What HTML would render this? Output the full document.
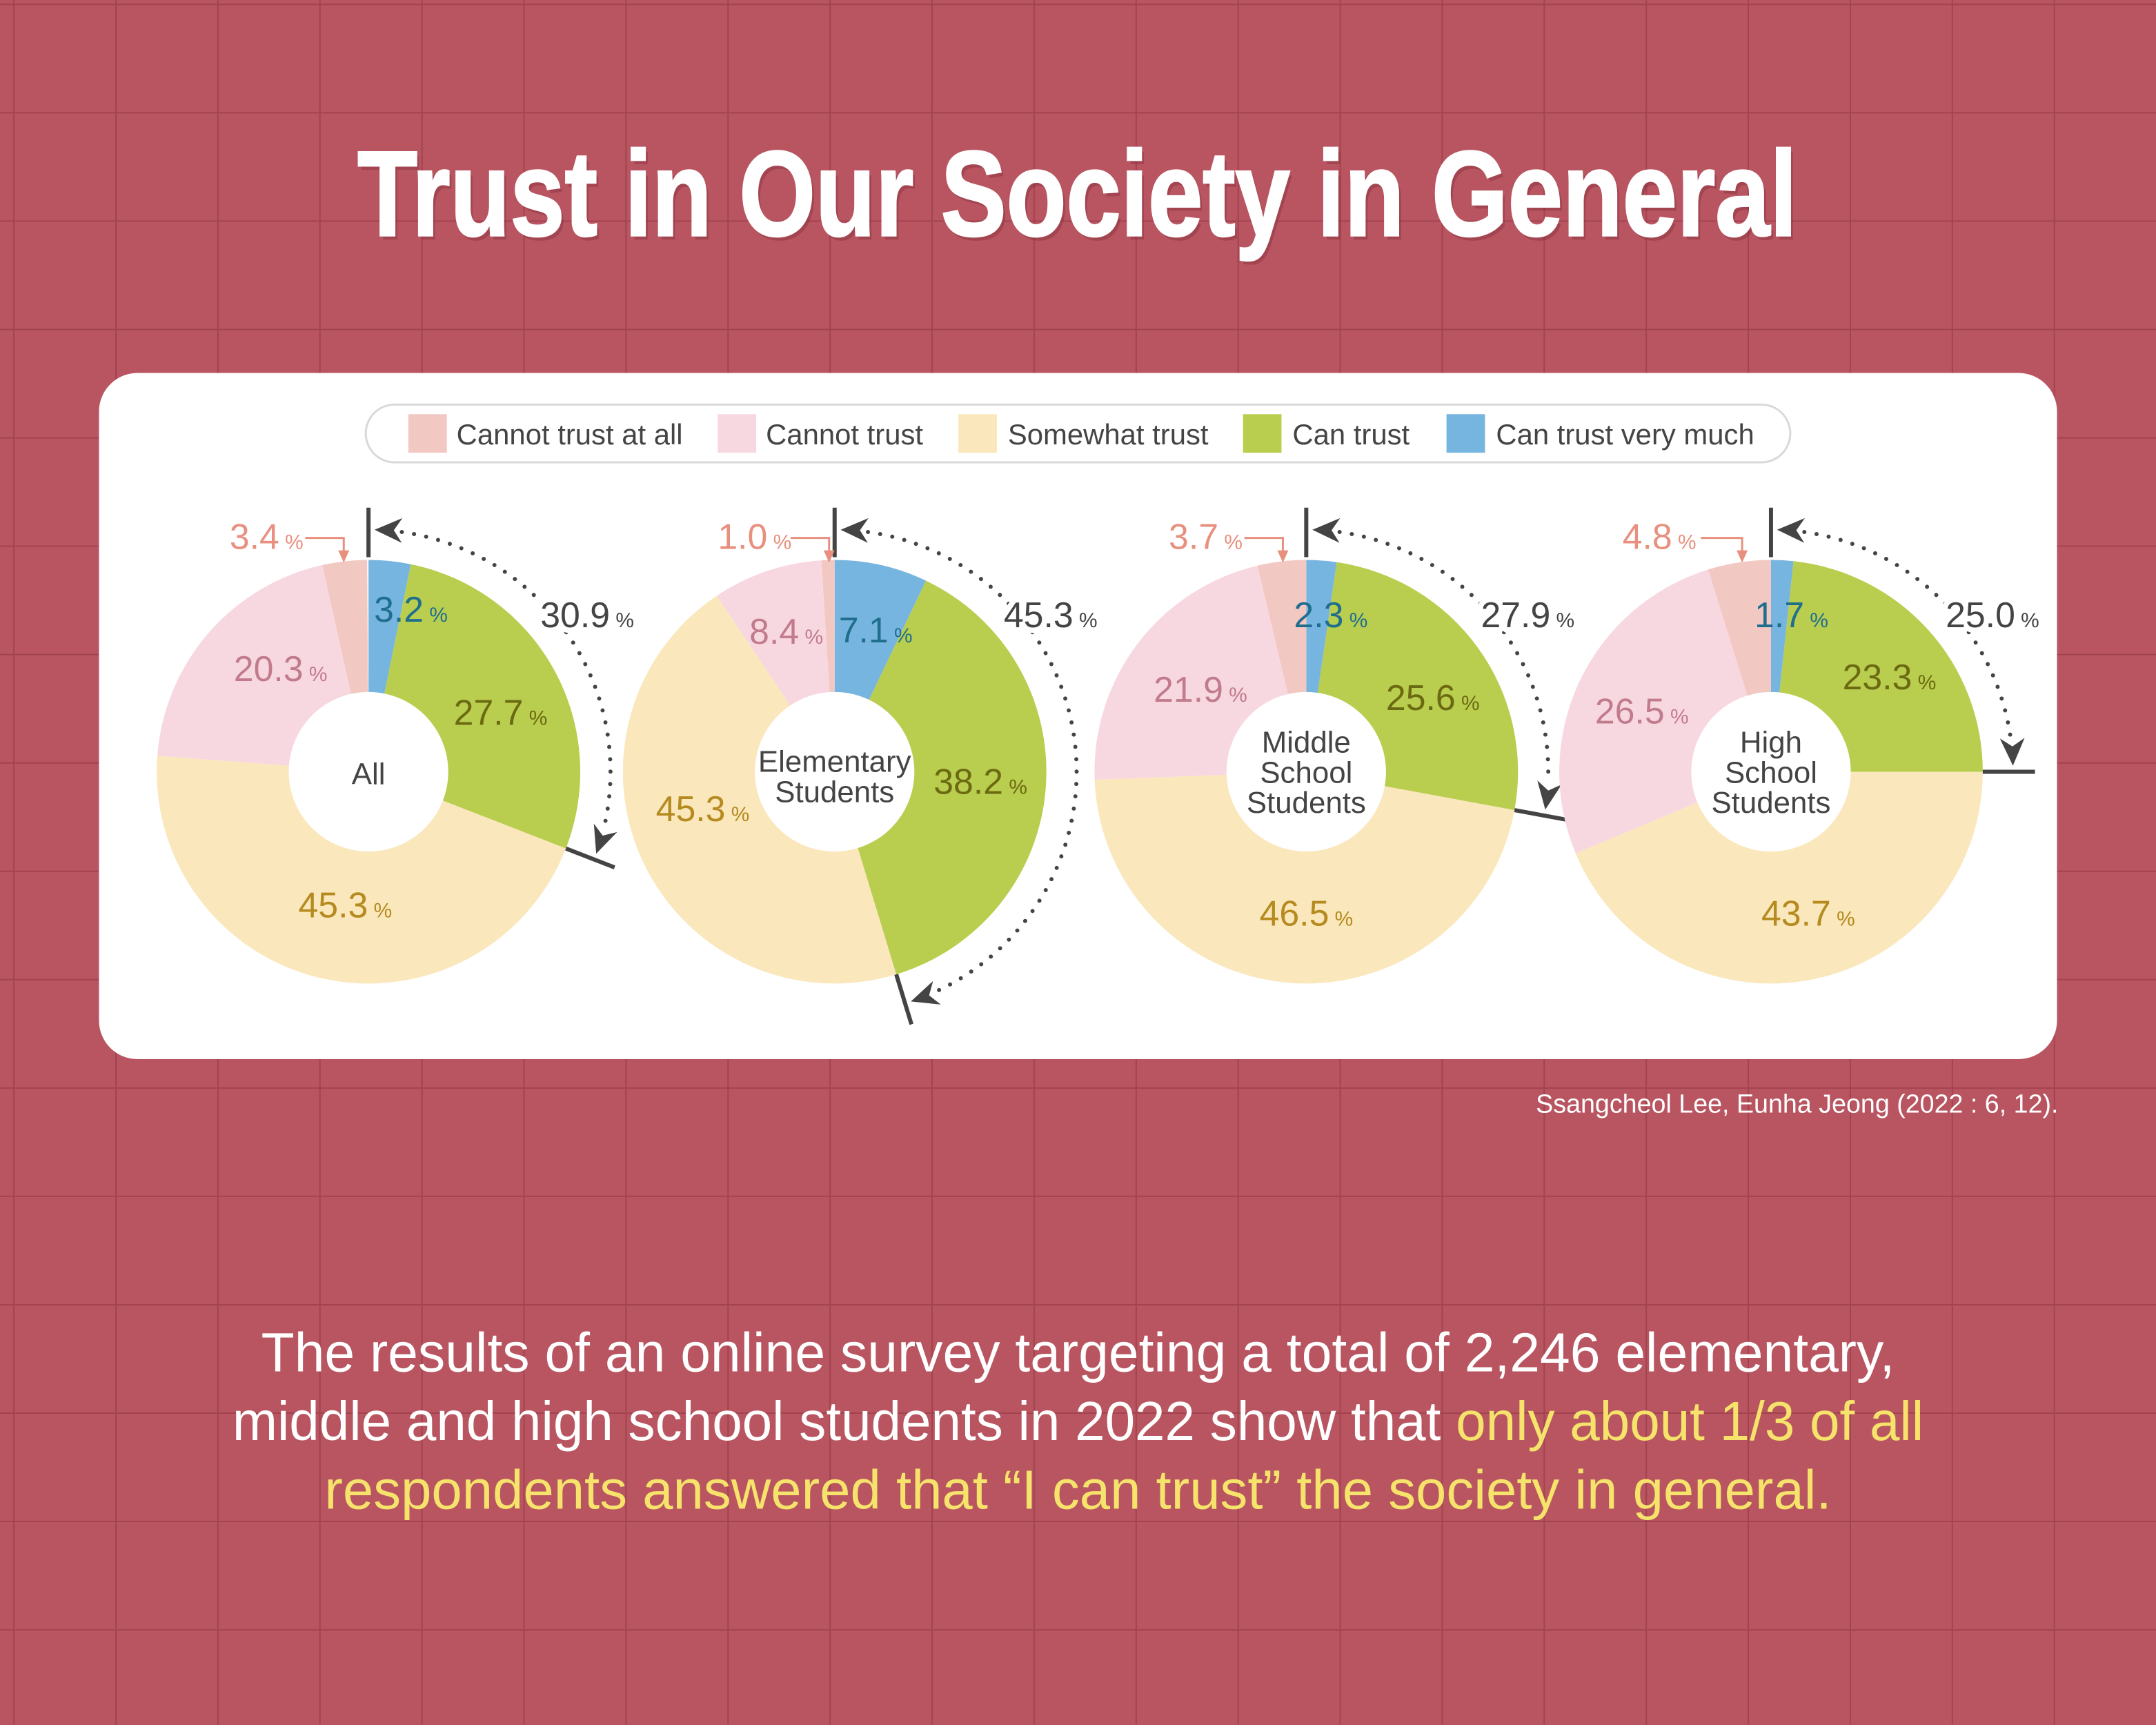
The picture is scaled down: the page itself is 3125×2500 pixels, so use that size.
<!DOCTYPE html>
<html><head><meta charset="utf-8"><style>
html,body{margin:0;padding:0;background:#B85560;}
svg{display:block}
text{font-family:"Liberation Sans",sans-serif;}
.tot{stroke:#fff;stroke-width:8;paint-order:stroke;stroke-linejoin:round}
</style></head><body>
<svg id="s" width="3125" height="2500" viewBox="0 0 1568 1254" xmlns="http://www.w3.org/2000/svg">
<rect width="1568" height="1254" fill="#B85560"/>
<g id="grid" stroke="#A2434F" stroke-width="1"></g>
<text x="260" y="171" font-family="Liberation Sans Narrow, Liberation Sans, sans-serif" font-weight="bold" font-size="88" fill="#7a2a35" opacity="0.35" textLength="1047" lengthAdjust="spacingAndGlyphs" transform="translate(2,3)">Trust in Our Society in General</text>
<text x="260" y="171" font-family="Liberation Sans Narrow, Liberation Sans, sans-serif" font-weight="bold" font-size="88" fill="#fff" stroke="#fff" stroke-width="1.5" textLength="1047" lengthAdjust="spacingAndGlyphs">Trust in Our Society in General</text>
<rect x="72" y="271" width="1424" height="499" rx="28" fill="#fff"/>
<rect x="266" y="294" width="1036" height="42" rx="21" fill="#fff" stroke="#d9d9d9" stroke-width="1.5"/>
<g font-size="21" fill="#444">
<rect x="297" y="301" width="28" height="28" fill="#F2C8C3"/><text x="332" y="323">Cannot trust at all</text>
<rect x="522" y="301" width="28" height="28" fill="#F8D8E0"/><text x="557" y="323">Cannot trust</text>
<rect x="697" y="301" width="28" height="28" fill="#FAE7BB"/><text x="733" y="323">Somewhat trust</text>
<rect x="904" y="301" width="28" height="28" fill="#B9CD4E"/><text x="940" y="323">Can trust</text>
<rect x="1052" y="301" width="28" height="28" fill="#76B5E0"/><text x="1088" y="323">Can trust very much</text>
</g>
<g id="donuts"></g>
<g id="labels" font-size="26">
<text x="167" y="399" fill="#E8907F">3.4<tspan font-size="15"> %</tspan></text>
<text x="272" y="452" fill="#1F6E8E">3.2<tspan font-size="15"> %</tspan></text>
<text class="tot" x="393" y="456" fill="#444">30.9<tspan font-size="15"> %</tspan></text>
<text x="330" y="527" fill="#6B6A12">27.7<tspan font-size="15"> %</tspan></text>
<text x="170" y="495" fill="#C17B8D">20.3<tspan font-size="15"> %</tspan></text>
<text x="217" y="667" fill="#B58A1E">45.3<tspan font-size="15"> %</tspan></text>
<text x="268" y="570" fill="#444" font-size="22" text-anchor="middle">All</text>
<text x="522" y="399" fill="#E8907F">1.0<tspan font-size="15"> %</tspan></text>
<text x="545" y="468" fill="#C17B8D">8.4<tspan font-size="15"> %</tspan></text>
<text x="610" y="467" fill="#1F6E8E">7.1<tspan font-size="15"> %</tspan></text>
<text class="tot" x="730" y="456" fill="#444">45.3<tspan font-size="15"> %</tspan></text>
<text x="679" y="577" fill="#6B6A12">38.2<tspan font-size="15"> %</tspan></text>
<text x="477" y="597" fill="#B58A1E">45.3<tspan font-size="15"> %</tspan></text>
<text x="607" y="561" fill="#444" font-size="22" text-anchor="middle">Elementary</text>
<text x="607" y="583" fill="#444" font-size="22" text-anchor="middle">Students</text>
<text x="850" y="399" fill="#E8907F">3.7<tspan font-size="15"> %</tspan></text>
<text x="941" y="456" fill="#1F6E8E">2.3<tspan font-size="15"> %</tspan></text>
<text class="tot" x="1077" y="456" fill="#444">27.9<tspan font-size="15"> %</tspan></text>
<text x="1008" y="516" fill="#6B6A12">25.6<tspan font-size="15"> %</tspan></text>
<text x="839" y="510" fill="#C17B8D">21.9<tspan font-size="15"> %</tspan></text>
<text x="916" y="673" fill="#B58A1E">46.5<tspan font-size="15"> %</tspan></text>
<text x="950" y="547" fill="#444" font-size="22" text-anchor="middle">Middle</text>
<text x="950" y="569" fill="#444" font-size="22" text-anchor="middle">School</text>
<text x="950" y="591" fill="#444" font-size="22" text-anchor="middle">Students</text>
<text x="1180" y="399" fill="#E8907F">4.8<tspan font-size="15"> %</tspan></text>
<text x="1276" y="456" fill="#1F6E8E">1.7<tspan font-size="15"> %</tspan></text>
<text class="tot" x="1415" y="456" fill="#444">25.0<tspan font-size="15"> %</tspan></text>
<text x="1340" y="501" fill="#6B6A12">23.3<tspan font-size="15"> %</tspan></text>
<text x="1160" y="526" fill="#C17B8D">26.5<tspan font-size="15"> %</tspan></text>
<text x="1281" y="673" fill="#B58A1E">43.7<tspan font-size="15"> %</tspan></text>
<text x="1288" y="547" fill="#444" font-size="22" text-anchor="middle">High</text>
<text x="1288" y="569" fill="#444" font-size="22" text-anchor="middle">School</text>
<text x="1288" y="591" fill="#444" font-size="22" text-anchor="middle">Students</text>
</g>
<text x="1497" y="809" fill="#fff" font-size="19" text-anchor="end" textLength="380" lengthAdjust="spacingAndGlyphs">Ssangcheol Lee, Eunha Jeong (2022 : 6, 12).</text>
<g font-size="40" text-anchor="middle" fill="#fff">
<text x="784" y="997" textLength="1188" lengthAdjust="spacingAndGlyphs">The results of an online survey targeting a total of 2,246 elementary,</text>
<text x="784" y="1047" textLength="1230" lengthAdjust="spacingAndGlyphs">middle and high school students in 2022 show that <tspan fill="#F6E36B">only about 1/3 of all</tspan></text>
<text x="784" y="1097" fill="#F6E36B" textLength="1096" lengthAdjust="spacingAndGlyphs">respondents answered that “I can trust” the society in general.</text>
</g>
</svg>
<script>
var NS="http://www.w3.org/2000/svg";
var g=document.getElementById('grid');
function el(t,a,p){var e=document.createElementNS(NS,t);for(var k in a)e.setAttribute(k,a[k]);(p||g).appendChild(e);return e;}
for(var x=10.1;x<1568;x+=74.2)el('line',{x1:x,y1:0,x2:x,y2:1254});
for(var y=3;y<1254;y+=78.8)el('line',{x1:0,y1:y,x2:1568,y2:y});
var D=document.getElementById('donuts');
var cols=["#76B5E0","#B9CD4E","#FAE7BB","#F8D8E0","#F2C8C3"];
var data=[[268,[3.2,27.7,45.3,20.3,3.4]],[607,[7.1,38.2,45.3,8.4,1.0]],[950,[2.3,25.6,46.5,21.9,3.7]],[1288,[1.7,23.3,43.7,26.5,4.8]]];
var cy=561,R=154,r=58;
function pt(cx,rad,a){var t=a/100*2*Math.PI;return [cx+rad*Math.sin(t),cy-rad*Math.cos(t)];}
data.forEach(function(d){var cx=d[0],s=0;
 d[1].forEach(function(v,i){var e=s+v;var p0=pt(cx,R,s),p1=pt(cx,R,e);var lg=v>50?1:0;
  el('path',{d:'M'+cx+','+cy+'L'+p0+'A'+R+','+R+' 0 '+lg+' 1 '+p1+'Z',fill:cols[i]},D);s=e;});
 el('circle',{cx:cx,cy:cy,r:r,fill:'#fff'},D);
 var tot=d[1][0]+d[1][1];
 var a=pt(cx,R+2,0),b=pt(cx,R+38,0);el('line',{x1:a[0],y1:a[1],x2:b[0],y2:b[1],stroke:'#444','stroke-width':3},D);
 a=pt(cx,R,tot);b=pt(cx,R+38,tot);el('line',{x1:a[0],y1:a[1],x2:b[0],y2:b[1],stroke:'#444','stroke-width':3},D);
 var rr=176,a0=2.2,a1=tot-2.2;var p0=pt(cx,rr,a0),p1=pt(cx,rr,a1);
 el('path',{d:'M'+p0+'A'+rr+','+rr+' 0 0 1 '+p1,fill:'none',stroke:'#444','stroke-width':3,'stroke-linecap':'round','stroke-dasharray':'0 9'},D);
 function head(at,dir){var tip=pt(cx,rr,at);var t=at/100*2*Math.PI;var tx=Math.cos(t)*dir,ty=Math.sin(t)*dir;
  var bx=tip[0]-tx*20,by=tip[1]-ty*20;var nx=-ty,ny=tx;
  el('path',{d:'M'+tip+'L'+(bx+nx*9)+','+(by+ny*9)+'L'+(bx-tx*-6)+','+(by-ty*-6)+'L'+(bx-nx*9)+','+(by-ny*9)+'Z',fill:'#444'},D);}
 head(0.4,-1);head(tot-0.4,1);
});
[[222,250],[575,603],[905,933],[1237,1267]].forEach(function(c){
 el('path',{d:'M'+c[0]+',391H'+c[1]+'V404',fill:'none',stroke:'#E8907F','stroke-width':1.5},D);
 el('path',{d:'M'+(c[1]-4)+',400L'+c[1]+',409L'+(c[1]+4)+',400Z',fill:'#E8907F'},D);
});
</script>
</body></html>
